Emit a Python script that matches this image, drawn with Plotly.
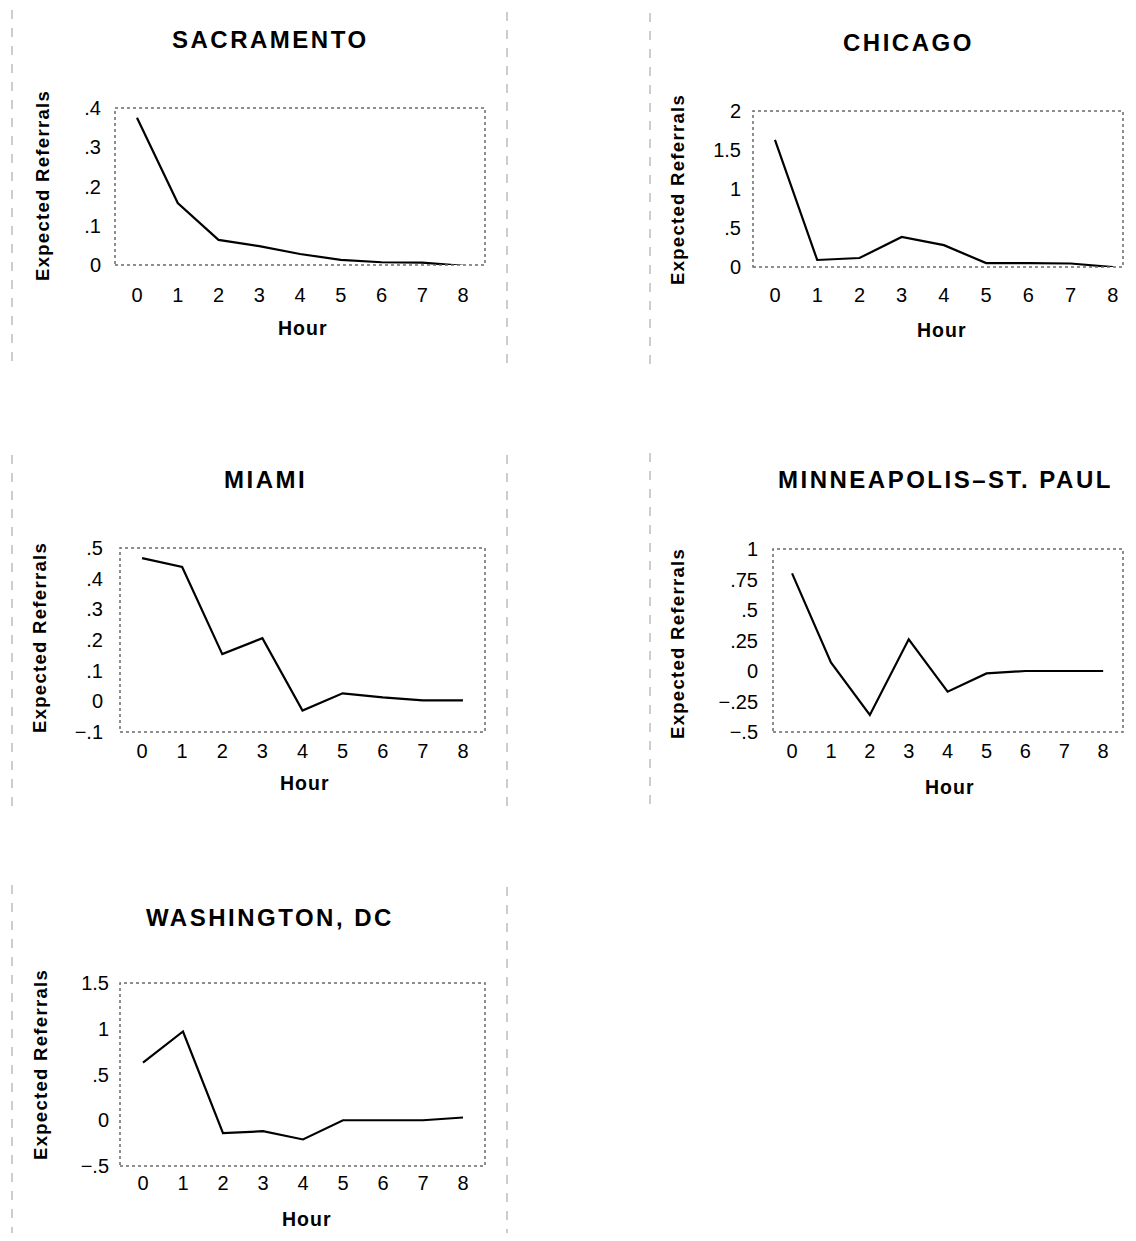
import plotly.graph_objects as go

# ---------------- data ----------------
hours = [0, 1, 2, 3, 4, 5, 6, 7, 8]
cities = ["SACRAMENTO", "CHICAGO", "MIAMI", "MINNEAPOLIS\u2013ST. PAUL", "WASHINGTON, DC"]

sacramento = [0.375, 0.158, 0.064, 0.048, 0.028, 0.013, 0.007, 0.006, -0.002]
chicago = [1.63, 0.09, 0.115, 0.385, 0.28, 0.05, 0.05, 0.045, 0.0]
miami = [0.467, 0.438, 0.154, 0.206, -0.03, 0.026, 0.013, 0.003, 0.003]
minneapolis = [0.80, 0.07, -0.36, 0.26, -0.17, -0.02, 0.0, 0.0, 0.0]
washington = [0.63, 0.97, -0.14, -0.12, -0.21, 0.0, 0.0, 0.0, 0.03]

series = [sacramento, chicago, miami, minneapolis, washington]

y_tickvals = [
    [0, 0.1, 0.2, 0.3, 0.4],
    [0, 0.5, 1, 1.5, 2],
    [-0.1, 0, 0.1, 0.2, 0.3, 0.4, 0.5],
    [-0.5, -0.25, 0, 0.25, 0.5, 0.75, 1],
    [-0.5, 0, 0.5, 1, 1.5],
]
y_ticktext = [
    ["0", ".1", ".2", ".3", ".4"],
    ["0", ".5", "1", "1.5", "2"],
    ["\u2212.1", "0", ".1", ".2", ".3", ".4", ".5"],
    ["\u2212.5", "\u2212.25", "0", ".25", ".5", ".75", "1"],
    ["\u2212.5", "0", ".5", "1", "1.5"],
]
x_ticktext = ["0", "1", "2", "3", "4", "5", "6", "7", "8"]

y_title = "Expected Referrals"
x_title = "Hour"

# ---------------- layout (target page pixels) ----------------
PAGE_W, PAGE_H = 1136, 1241
OFF = 8  # default page margin around the figure
W, H = PAGE_W - 2 * OFF, PAGE_H - 2 * OFF

# plot boxes: (left, right, top, bottom)
boxes = [
    (115, 485, 108, 265),
    (753, 1123, 111, 267),
    (120, 485, 548, 732),
    (773, 1123, 549, 732),
    (120, 485, 983, 1166),
]
x_ranges = [(-0.54, 8.54), (-0.52, 8.24), (-0.55, 8.55), (-0.49, 8.51), (-0.575, 8.55)]
y_ranges = [(0, 0.4), (0, 2), (-0.1, 0.5), (-0.5, 1.0), (-0.5, 1.5)]
title_pos = [(270, 40), (908, 42), (265, 480), (945, 480), (270, 917)]
ytitle_pos = [(43, 186), (677, 190), (40, 638), (677, 644), (40, 1065)]
xtitle_pos = [(303, 328), (942, 330), (305, 783), (950, 787), (307, 1219)]
ystandoff = [13, 11, 16, 14, 10]
xstandoff = [16, 14, 5, 5, 3]

FONT = "Liberation Sans, Arial, Helvetica, sans-serif"


def px(x):
    return (x - OFF) / W


def py(y):
    return 1 - (y - OFF) / H


def spaced(text, ls):
    return f'<span style="letter-spacing:{ls}px">{text}</span>'


fig = go.Figure()
layout = dict(
    width=W, height=H,
    margin=dict(l=0, r=0, t=0, b=0, pad=0),
    paper_bgcolor="white", plot_bgcolor="white",
    showlegend=False,
    font=dict(family=FONT, color="black"),
)
shapes = []
annotations = []

for i, (vals, city) in enumerate(zip(series, cities)):
    n = i + 1
    xa = "x" if n == 1 else f"x{n}"
    ya = "y" if n == 1 else f"y{n}"
    fig.add_trace(go.Scatter(
        x=hours, y=vals, mode="lines",
        line=dict(color="black", width=2.2),
        xaxis=xa, yaxis=ya, hoverinfo="skip",
    ))
    l, r, t, b = boxes[i]
    xkey = "xaxis" if n == 1 else f"xaxis{n}"
    ykey = "yaxis" if n == 1 else f"yaxis{n}"
    layout[xkey] = dict(
        domain=[px(l), px(r)], anchor=ya, range=list(x_ranges[i]),
        tickmode="array", tickvals=hours, ticktext=x_ticktext,
        showgrid=False, zeroline=False, showline=False, ticks="",
        automargin=False,
        ticklabelstandoff=xstandoff[i],
        tickfont=dict(size=20, family=FONT, color="black"),
        fixedrange=True,
    )
    layout[ykey] = dict(
        domain=[py(b), py(t)], anchor=xa, range=list(y_ranges[i]),
        tickmode="array", tickvals=y_tickvals[i], ticktext=y_ticktext[i],
        showgrid=False, zeroline=False, showline=False, ticks="",
        automargin=False,
        ticklabelstandoff=ystandoff[i],
        tickfont=dict(size=20, family=FONT, color="black"),
        fixedrange=True,
    )
    # dotted plot frame
    shapes.append(dict(
        type="rect", xref=f"{xa} domain", yref=f"{ya} domain",
        x0=0, x1=1, y0=0, y1=1,
        line=dict(color="#6a6a6a", width=1.5, dash="dot"),
    ))
    tx, ty = title_pos[i]
    annotations.append(dict(
        text=spaced(f"<b>{city}</b>", 2.5), x=px(tx), y=py(ty), xref="paper", yref="paper",
        showarrow=False, xanchor="center", yanchor="middle",
        font=dict(size=24, family=FONT, color="black"),
    ))
    yx, yy = ytitle_pos[i]
    annotations.append(dict(
        text=spaced(f"<b>{y_title}</b>", 1.3), x=px(yx), y=py(yy), xref="paper", yref="paper",
        showarrow=False, xanchor="center", yanchor="middle", textangle=-90,
        font=dict(size=18.5, family=FONT, color="black"),
    ))
    hx, hy = xtitle_pos[i]
    annotations.append(dict(
        text=spaced(f"<b>{x_title}</b>", 1), x=px(hx), y=py(hy), xref="paper", yref="paper",
        showarrow=False, xanchor="center", yanchor="middle",
        font=dict(size=19.5, family=FONT, color="black"),
    ))

# faint page divider lines of the scanned layout
dividers = [
    (12, 10, 370), (12, 455, 810), (12, 885, 1233),
    (507, 12, 367), (507, 455, 808), (507, 887, 1233),
    (650, 13, 372), (650, 453, 808),
]
for (x, y0, y1) in dividers:
    shapes.append(dict(
        type="line", xref="paper", yref="paper",
        x0=px(x), x1=px(x), y0=py(y0), y1=py(y1),
        line=dict(color="#9a9a9a", width=1, dash="dash"),
    ))

layout["shapes"] = shapes
layout["annotations"] = annotations
fig.update_layout(**layout)
fig.write_html("out.html", config={"displayModeBar": False})
